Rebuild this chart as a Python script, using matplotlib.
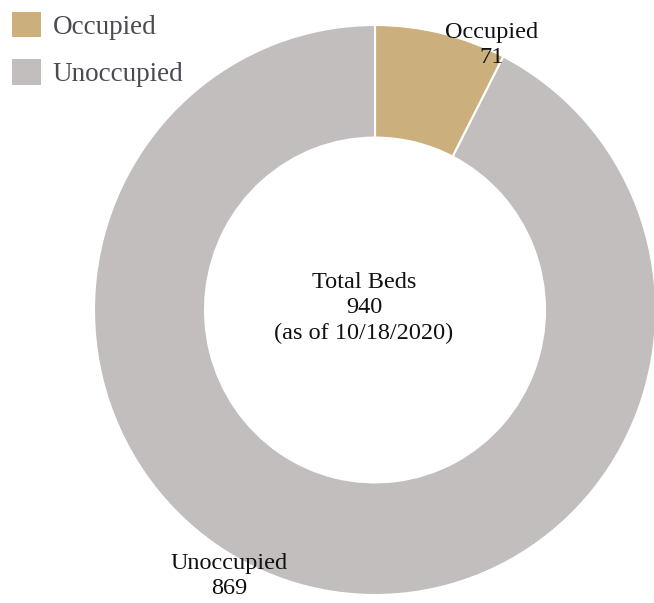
import matplotlib
matplotlib.use("Agg")
import matplotlib.pyplot as plt
from matplotlib.patches import Patch

categories = ["Occupied", "Unoccupied"]
values = [71, 869]
colors = ["#CBB07D", "#C2BEBE"]
total_label = "Total Beds"
total_value = 940
as_of = "(as of 10/18/2020)"

plt.rcParams['font.family'] = ['Liberation Serif', 'DejaVu Serif']

W, H = 654, 603
fig = plt.figure(figsize=(W / 100, H / 100), dpi=100)
cx, cy, rx, ry = 375, 310, 281, 285
ax = fig.add_axes([(cx - rx) / W, (H - cy - ry) / H, 2 * rx / W, 2 * ry / H])

wedges, _ = ax.pie(values, colors=colors, startangle=90, counterclock=False,
                   radius=1.0, wedgeprops=dict(width=0.395, edgecolor="white", linewidth=1.5))
ax.set_xlim(-1, 1)
ax.set_ylim(-1, 1)
ax.set_aspect('auto')
ax.axis('off')

def to_data(px, py):
    return (px - cx) / rx, (cy - py) / ry

# slice labels
x, y = to_data(492, 45)
ax.text(x, y, f"{categories[0]}\n{values[0]}", ha='center', va='center',
        fontsize=17.5, color="#111111", linespacing=1.3)
x, y = to_data(229, 576)
ax.text(x, y, f"{categories[1]}\n{values[1]}", ha='center', va='center',
        fontsize=17.5, color="#111111", linespacing=1.3)

# center text
x, y = to_data(364, 308)
ax.text(x, y, f"{total_label}\n{total_value}\n{as_of}", ha='center', va='center',
        fontsize=17.5, color="#111111", linespacing=1.3)

handles = [Patch(facecolor=c, edgecolor='none') for c in colors]
fig.legend(handles, categories, loc='upper left', bbox_to_anchor=(0.0, 1.0),
           frameon=False, fontsize=19.5, handlelength=1.05, handleheight=1.05,
           handletextpad=0.45, labelspacing=0.72, borderaxespad=0.0,
           borderpad=0.45, labelcolor="#4a4a52")

fig.savefig("out.png", dpi=100)
